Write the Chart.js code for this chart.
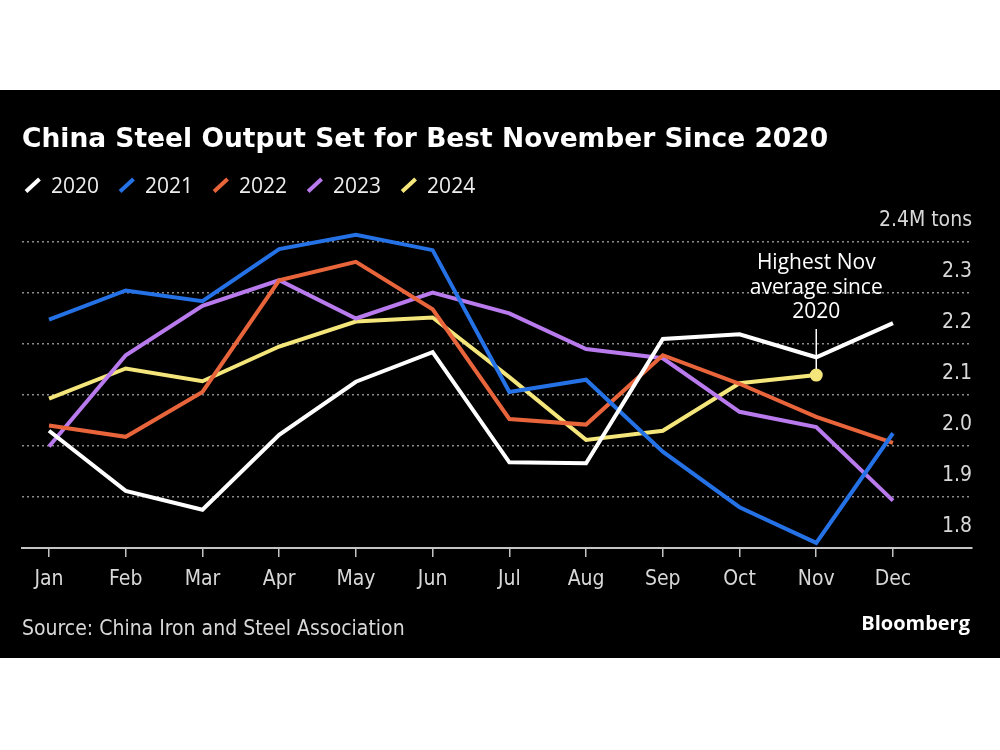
<!DOCTYPE html>
<html><head><meta charset="utf-8">
<script src="https://cdn.jsdelivr.net/npm/chart.js@4.4.1/dist/chart.umd.min.js"></script>
<style>
html,body{margin:0;padding:0;background:#fff;}
#wrap{position:absolute;left:0;top:90px;width:1000px;height:568px;background:#000;}
</style></head><body>
<div id="wrap"><canvas id="c"></canvas></div>
<script>
const titleText = 'China Steel Output Set for Best November Since 2020';
const sourceText = 'Source: China Iron and Steel Association';
const brandText = 'Bloomberg';
const noteLines = ['Highest Nov', 'average since', '2020'];
const months = ['Jan','Feb','Mar','Apr','May','Jun','Jul','Aug','Sep','Oct','Nov','Dec'];
const yTickValues = [1.8, 1.9, 2.0, 2.1, 2.2, 2.3, 2.4];
const yUnitLabel = '2.4M tons';
const seriesNames = ['2020', '2021', '2022', '2023', '2024'];
const s2020 = [2.03, 1.912, 1.875, 2.022, 2.126, 2.184, 1.968, 1.966, 2.21, 2.219, 2.174, 2.241];
const s2021 = [2.248, 2.305, 2.284, 2.386, 2.414, 2.384, 2.106, 2.13, 1.989, 1.88, 1.81, 2.025];
const s2022 = [2.04, 2.018, 2.106, 2.325, 2.361, 2.268, 2.053, 2.042, 2.178, 2.122, 2.057, 2.006];
const s2023 = [1.999, 2.178, 2.275, 2.325, 2.25, 2.301, 2.26, 2.19, 2.172, 2.067, 2.037, 1.893];
const s2024 = [2.093, 2.152, 2.127, 2.195, 2.244, 2.252, 2.135, 2.012, 2.03, 2.123, 2.139, null];
const highlightIndex = 10;

const seriesValues = [s2020, s2021, s2022, s2023, s2024];
const seriesColors = ['#ffffff', '#2571e6', '#e8643b', '#b87aec', '#f4e67b'];

const condFont = '"DejaVu Sans Condensed", "Liberation Sans Narrow", sans-serif';
const sansFont = '"Open Sans", "Noto Sans", sans-serif';
const titleFont = '"DejaVu Sans", sans-serif';

const decor = {
  id: 'decor',
  afterDraw(chart) {
    const ctx = chart.ctx;
    ctx.save();
    // title
    ctx.fillStyle = '#ffffff';
    ctx.textAlign = 'left';
    ctx.textBaseline = 'alphabetic';
    ctx.font = '700 26.5px ' + titleFont;
    ctx.fillText(titleText, 22, 57);
    // legend
    ctx.font = '21px ' + sansFont;
    let x = 23;
    chart.data.datasets.forEach(ds => {
      ctx.strokeStyle = ds.borderColor;
      ctx.lineWidth = 4;
      ctx.lineCap = 'butt';
      ctx.beginPath();
      ctx.moveTo(x + 3, 101.5);
      ctx.lineTo(x + 16.5, 89);
      ctx.stroke();
      ctx.fillStyle = '#eeeeee';
      ctx.fillText(ds.label, x + 28, 103);
      x += 28 + ctx.measureText(ds.label).width + 18;
    });
    // annotation
    const xs = chart.scales.x, ys = chart.scales.y;
    const nx = xs.getPixelForValue(highlightIndex);
    const ny = ys.getPixelForValue(s2024[highlightIndex]);
    ctx.strokeStyle = '#ffffff';
    ctx.lineWidth = 1.5;
    ctx.beginPath();
    ctx.moveTo(nx, 239);
    ctx.lineTo(nx, ny - 6);
    ctx.stroke();
    ctx.fillStyle = '#ffffff';
    ctx.textAlign = 'center';
    ctx.font = '21px ' + sansFont;
    noteLines.forEach((t, i) => ctx.fillText(t, nx, 179 + i * 24.6));
    // footer
    ctx.textAlign = 'left';
    ctx.fillStyle = '#d8d8d8';
    ctx.font = '21px ' + condFont;
    ctx.fillText(sourceText, 22, 545);
    ctx.textAlign = 'right';
    ctx.fillStyle = '#ffffff';
    ctx.font = '700 20px ' + sansFont;
    ctx.fillText(brandText, 970, 540);
    ctx.restore();
  }
};

const datasets = seriesNames.map((name, i) => ({
  label: name,
  data: seriesValues[i],
  borderColor: seriesColors[i],
  backgroundColor: seriesColors[i],
  borderWidth: 4,
  tension: 0,
  clip: false,
  spanGaps: false,
  pointRadius: i === 4 ? (c => c.dataIndex === highlightIndex ? 6.5 : 0) : 0,
  pointHoverRadius: 0,
  pointBorderWidth: 0,
  pointBackgroundColor: seriesColors[i]
}));

new Chart(document.getElementById('c'), {
  type: 'line',
  data: { labels: months.map((m, i) => i), datasets },
  plugins: [decor],
  options: {
    responsive: true,
    maintainAspectRatio: false,
    devicePixelRatio: 1,
    animation: false,
    layout: { padding: { top: 152, bottom: 0, left: 22, right: 0 } },
    plugins: { legend: { display: false }, title: { display: false }, tooltip: { enabled: false } },
    scales: {
      x: {
        type: 'linear',
        min: -0.352,
        max: 12.03,
        afterBuildTicks: s => { s.ticks = months.map((m, i) => ({ value: i })); },
        afterFit: s => { s.height = 110; },
        grid: { drawOnChartArea: false, drawTicks: true, tickLength: 9, color: '#c4c4c4', lineWidth: 1.5 },
        border: { display: true, color: '#c4c4c4', width: 2 },
        ticks: {
          autoSkip: false, maxRotation: 0, padding: 10,
          color: '#d8d8d8',
          font: { family: condFont, size: 21 },
          callback: v => months[v]
        }
      },
      y: {
        type: 'linear',
        position: 'right',
        min: 1.8,
        max: 2.4,
        afterBuildTicks: s => { s.ticks = yTickValues.map(v => ({ value: v })); },
        afterFit: s => { s.width = 28; },
        grid: {
          drawTicks: false,
          tickLength: 0,
          lineWidth: 1.5,
          color: c => (c.tick && Math.abs(c.tick.value - 1.8) < 1e-6) ? 'rgba(0,0,0,0)' : '#8c8c8c'
        },
        border: { display: false, dash: [2, 3] },
        ticks: {
          mirror: true,
          padding: 0,
          labelOffset: -21,
          color: '#d8d8d8',
          font: { family: condFont, size: 21 },
          callback: v => Math.abs(v - 2.4) < 1e-6 ? yUnitLabel : v.toFixed(1)
        }
      }
    }
  }
});
</script>
</body></html>
